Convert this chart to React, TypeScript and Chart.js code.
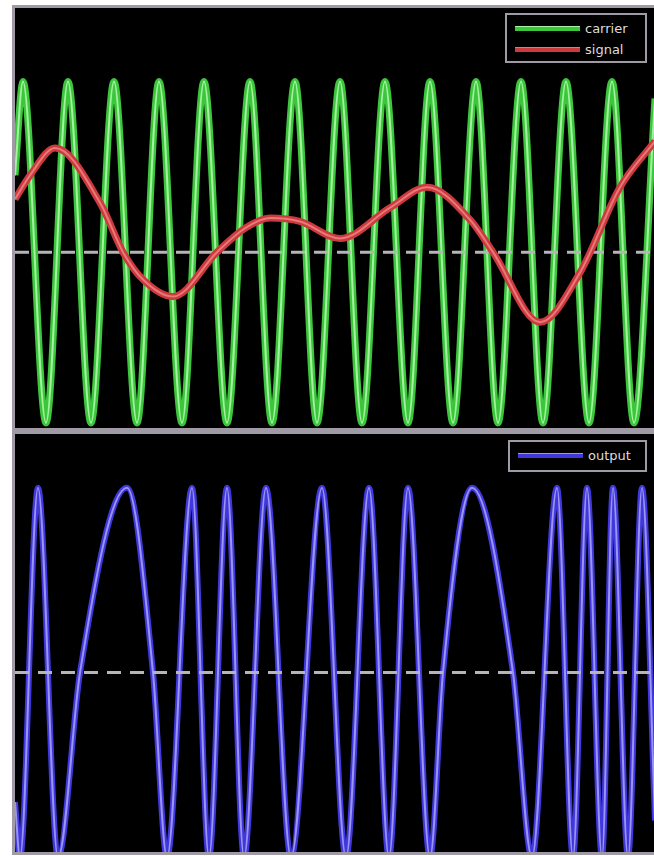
import React, { useEffect, useRef } from "react";
import { Chart, registerables } from "chart.js";

Chart.register(...registerables);

// time axis in samples (0..640)
const T_MAX = 640;

// carrier: extremes
const carrierT = [0, 8, 31, 53, 76, 99, 122, 144, 167, 189, 212, 235, 257, 280, 302, 325, 347, 370, 393, 415, 438, 461, 483, 506, 528, 551, 574, 597, 619, 640];
const carrierV = [0.45, 1, -1, 1, -1, 1, -1, 1, -1, 1, -1, 1, -1, 1, -1, 1, -1, 1, -1, 1, -1, 1, -1, 1, -1, 1, -1, 1, -1, 0.9];

// modulating signal
const signalT = [0, 15, 40, 85, 108, 128, 158, 202, 230, 255, 285, 325, 375, 412, 455, 478, 525, 565, 605, 640];
const signalV = [0.31, 0.45, 0.61, 0.29, 0, -0.16, -0.26, 0, 0.14, 0.2, 0.18, 0.08, 0.26, 0.38, 0.19, 0, -0.41, -0.12, 0.38, 0.65];

// FM output
const outputT = [0, 5, 23, 43, 65, 112, 138, 152, 177, 194, 212, 229, 251, 276, 307, 331, 354, 374, 393, 415, 428, 457, 498, 517, 542, 558, 572, 587, 598, 613, 627, 640];
const outputV = [-0.7, -1, 1, -1, 0, 1, 0, -1, 1, -1, 1, -1, 1, -1, 1, -1, 1, -1, 1, -1, 0, 1, 0, -1, 1, -1, 1, -1, 1, -1, 1, -0.8];

const topLabels = ["carrier", "signal"];
const bottomLabels = ["output"];
const topRange = [-1.03, 1.43];
const bottomRange = [-0.97, 1.29];

const GREEN = "#3cc63c";
const GREEN_HI = "#a4f2a0";
const RED = "#cc3a3e";
const RED_HI = "#e8787a";
const BLUE = "#4038dc";
const BLUE_HI = "#9a94f2";
const DASH = "#b6b4b8";
const FRAME = "#a09aa4";

const pts = (t: number[], v: number[]) => t.map((x, i) => ({ x, y: v[i] }));

function line(data: any[], color: string, width: number, order: number, dash?: number[]) {
  return {
    label: "",
    data,
    borderColor: color,
    backgroundColor: color,
    borderWidth: width,
    pointRadius: 0,
    cubicInterpolationMode: "monotone" as const,
    fill: false,
    order,
    borderDash: dash || [],
    borderJoinStyle: "round" as const,
  };
}

function Scope({ width, height, datasets, range }: { width: number; height: number; datasets: any[]; range: number[] }) {
  const ref = useRef<HTMLCanvasElement | null>(null);
  useEffect(() => {
    if (!ref.current) return;
    const chart = new Chart(ref.current, {
      type: "line",
      data: { datasets },
      options: {
        responsive: false,
        animation: false,
        events: [],
        layout: { padding: 0 },
        plugins: { legend: { display: false }, tooltip: { enabled: false } },
        scales: {
          x: { type: "linear", min: 0, max: T_MAX, display: false },
          y: { type: "linear", min: range[0], max: range[1], display: false },
        },
      },
    });
    return () => chart.destroy();
  }, []);
  return <canvas ref={ref} width={width} height={height} style={{ display: "block" }} />;
}

function Legend({ items, left, top, width, height }: { items: { label: string; color: string; hi: string }[]; left: number; top: number; width: number; height: number }) {
  return (
    <div
      style={{
        position: "absolute",
        left,
        top,
        width,
        height,
        boxSizing: "border-box",
        border: `2px solid ${FRAME}`,
        background: "#000",
        paddingTop: 3,
        paddingLeft: 8,
      }}
    >
      {items.map((it) => (
        <div key={it.label} style={{ display: "flex", alignItems: "center", height: 21 }}>
          <span
            style={{
              display: "inline-block",
              width: 65,
              height: 4,
              background: it.color,
              borderTop: `1px solid ${it.hi}`,
              marginRight: 5,
            }}
          />
          <span style={{ color: "#dcdcdc", font: '13px "DejaVu Sans", sans-serif', lineHeight: "21px" }}>{it.label}</span>
        </div>
      ))}
    </div>
  );
}

export default function App() {
  const zero = [{ x: 0, y: 0 }, { x: T_MAX, y: 0 }];
  const topSets = [
    line(pts(carrierT, carrierV), GREEN, 7, 6),
    line(pts(carrierT, carrierV), GREEN_HI, 2, 5),
    line(zero, DASH, 3, 4, [14, 9]),
    line(pts(signalT, signalV), RED, 7, 2),
    line(pts(signalT, signalV), RED_HI, 2, 1),
  ];
  const bottomSets = [
    line(pts(outputT, outputV), BLUE, 6, 6),
    line(pts(outputT, outputV), BLUE_HI, 2, 5),
    line(zero, DASH, 3, 1, [14, 9]),
  ];
  const panel = (top: number, h: number, sets: any[], range: number[], legend: any) => (
    <div
      style={{
        position: "absolute",
        left: 12,
        top,
        border: `3px solid ${FRAME}`,
        background: "#000",
        width: T_MAX,
        height: h,
      }}
    >
      <Scope width={T_MAX} height={h} datasets={sets} range={range} />
      {legend}
    </div>
  );
  return (
    <div style={{ position: "absolute", left: 0, top: 0, width: 654, height: 856, overflow: "hidden", background: "#fff" }}>
      {panel(
        5,
        420,
        topSets,
        topRange,
        <Legend
          left={490}
          top={5}
          width={142}
          height={50}
          items={[
            { label: topLabels[0], color: GREEN, hi: GREEN_HI },
            { label: topLabels[1], color: RED, hi: RED_HI },
          ]}
        />
      )}
      {panel(
        431,
        418,
        bottomSets,
        bottomRange,
        <Legend left={493} top={6} width={139} height={32} items={[{ label: bottomLabels[0], color: BLUE, hi: BLUE_HI }]} />
      )}
    </div>
  );
}
